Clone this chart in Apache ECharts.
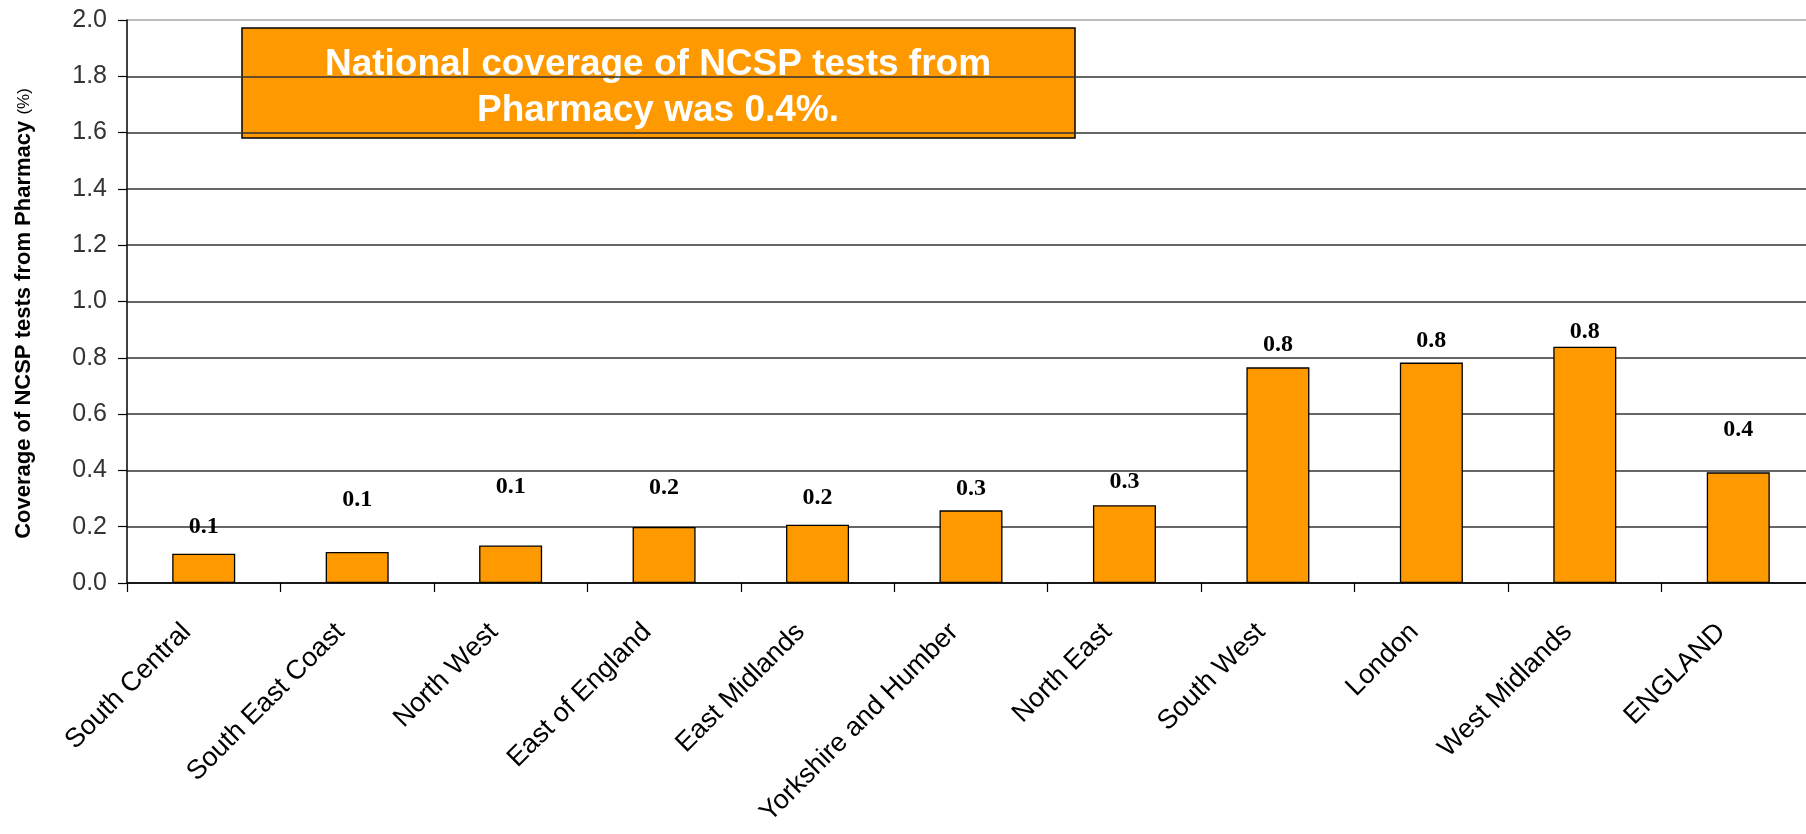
<!DOCTYPE html>
<html>
<head>
<meta charset="utf-8">
<script src="https://cdn.jsdelivr.net/npm/echarts@6/dist/echarts.min.js"></script>
<style>
  html, body { margin: 0; padding: 0; background: #fff; }
  #chart { width: 1806px; height: 834px; }
</style>
</head>
<body>
<div id="chart"></div>
<script>
// ---- data ----
const categories = ['South Central', 'South East Coast', 'North West', 'East of England', 'East Midlands',
  'Yorkshire and Humber', 'North East', 'South West', 'London', 'West Midlands', 'ENGLAND'];
const coverage = [0.104, 0.110, 0.133, 0.199, 0.207, 0.258, 0.276, 0.766, 0.783, 0.839, 0.393];
const yMin = 0, yMax = 2.0, yStep = 0.2;
const axisTitle = 'Coverage of NCSP tests from Pharmacy ';
const axisUnit = '(%)';
const noteLines = ['National coverage of NCSP tests from', 'Pharmacy was 0.4%.'];

// ---- styling (label lift above each bar, in px) ----
const labelLift = [15, 40, 47, 27, 15, 10, 12, 11, 10, 3, 31];

const chart = echarts.init(document.getElementById('chart'), null, { renderer: 'canvas' });

const gridColors = [];
for (let i = 0; i < 10; i++) gridColors.push('#333333');
gridColors.push('#a8a8a8');

const option = {
  animation: false,
  backgroundColor: '#ffffff',
  grid: { left: 127, right: -9, top: 20, bottom: 251, containLabel: false, outerBoundsMode: 'none' },
  xAxis: {
    type: 'category',
    data: categories,
    boundaryGap: true,
    axisLine: { show: true, lineStyle: { color: '#000', width: 1.5 } },
    axisTick: { show: true, length: 9, interval: 0, alignWithLabel: false, lineStyle: { color: '#000', width: 1.2 } },
    axisLabel: {
      interval: 0,
      rotate: 45,
      margin: 28,
      padding: [0, 24, 0, 0],
      color: '#000',
      fontFamily: 'Liberation Sans, Arial, sans-serif',
      fontSize: 27
    },
    splitLine: { show: false }
  },
  yAxis: {
    type: 'value',
    min: yMin,
    max: yMax,
    interval: yStep,
    name: '{b|' + axisTitle + '}{n|' + axisUnit + '}',
    nameLocation: 'middle',
    nameGap: 92,
    nameTextStyle: {
      padding: [0, 24, 0, 0],
      rich: {
        b: { fontFamily: 'Liberation Sans, Arial, sans-serif', fontWeight: 'bold', fontSize: 22, color: '#000' },
        n: { fontFamily: 'Liberation Sans, Arial, sans-serif', fontWeight: 'normal', fontSize: 17, color: '#000' }
      }
    },
    axisLine: { show: true, lineStyle: { color: '#000', width: 1.5 } },
    axisTick: { show: true, length: 9, lineStyle: { color: '#000', width: 1.2 } },
    axisLabel: {
      margin: 20,
      color: '#333',
      fontFamily: 'Liberation Sans, Arial, sans-serif',
      fontSize: 25,
      formatter: v => v.toFixed(1)
    },
    splitLine: { show: true, lineStyle: { color: gridColors, width: 1.6 } }
  },
  series: [{
    type: 'bar',
    barWidth: 63,
    z: 3,
    itemStyle: { color: '#FF9900', borderColor: '#000', borderWidth: 1.3 },
    label: {
      show: true,
      position: 'top',
      color: '#000',
      fontFamily: 'Liberation Serif, Times New Roman, serif',
      fontWeight: 'bold',
      fontSize: 24,
      formatter: p => p.value.toFixed(1)
    },
    data: coverage.map((v, i) => ({ value: v, label: { distance: labelLift[i] } }))
  }],
  graphic: [{
    type: 'group',
    z: 100,
    children: [{
      type: 'rect',
      shape: { x: 242, y: 28, width: 833, height: 110 },
      style: { fill: '#FF9900', stroke: '#000', lineWidth: 1.5 }
    }, {
      type: 'text',
      x: 658,
      y: 88,
      style: {
        text: noteLines.join('\n'),
        fill: '#fff',
        font: 'bold 37px "Liberation Sans", Arial, sans-serif',
        lineHeight: 46,
        align: 'center',
        verticalAlign: 'middle'
      }
    }]
  }]
};

chart.setOption(option);
</script>
</body>
</html>
